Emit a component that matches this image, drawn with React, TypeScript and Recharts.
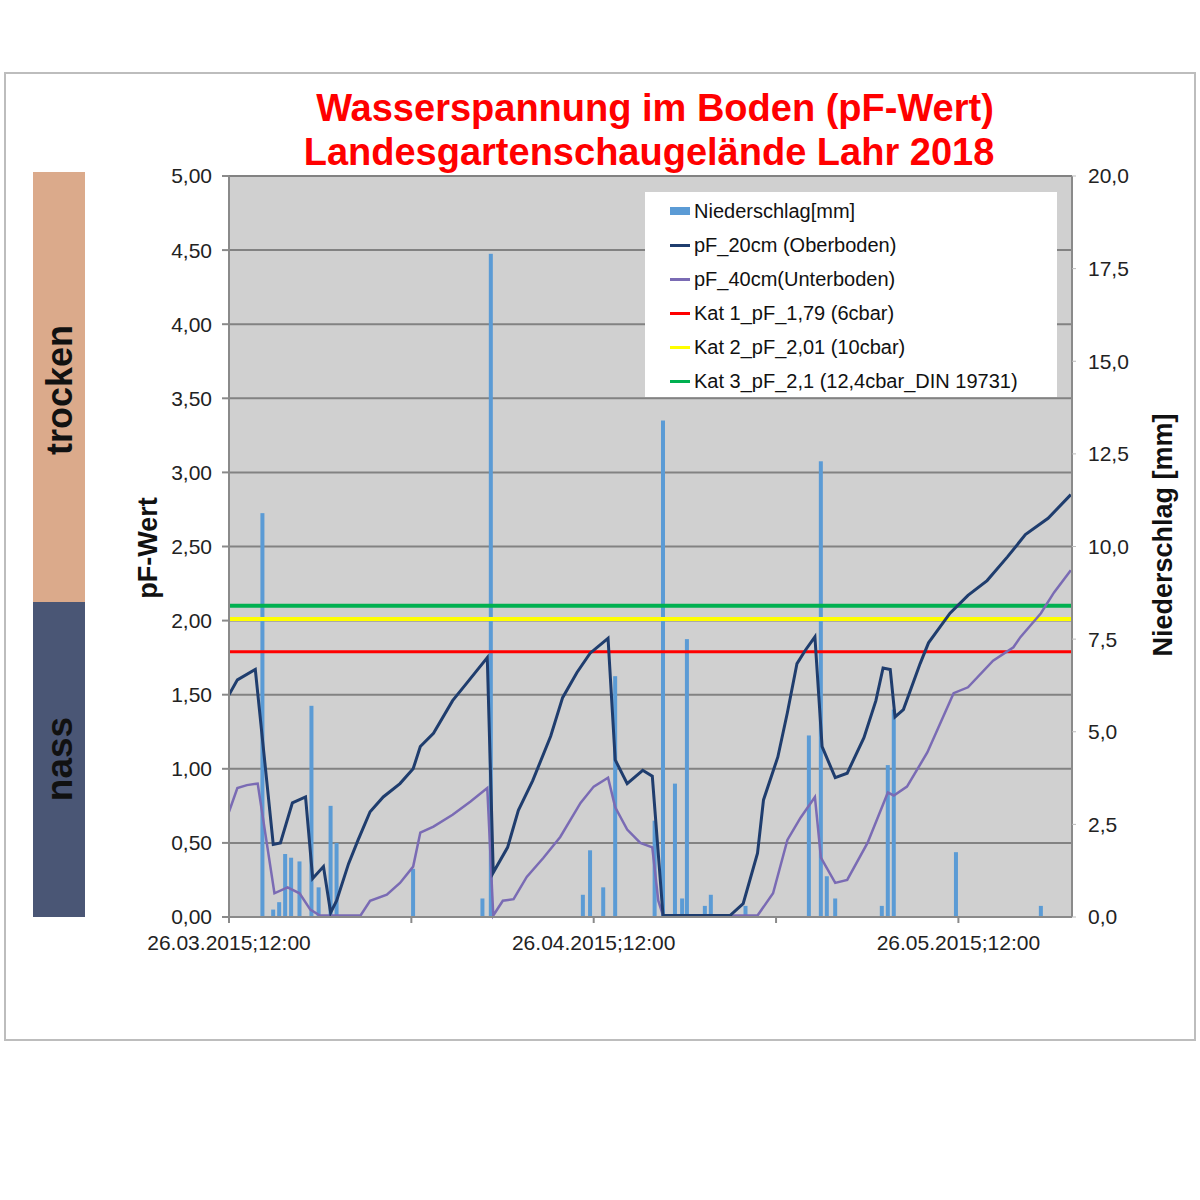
import {
  Bar,
  CartesianGrid,
  ComposedChart,
  Legend,
  Line,
  ReferenceLine,
  XAxis,
  YAxis,
} from 'recharts';

const FONT = '"Liberation Sans", Arial, sans-serif';

// x is counted in days from 26.03.2015 12:00
const xTickDays = [0, 15.25, 30.5, 45.75, 61];
const xTickLabels = ['26.03.2015;12:00', '', '26.04.2015;12:00', '', '26.05.2015;12:00'];
const pfTicks = [0, 0.5, 1, 1.5, 2, 2.5, 3, 3.5, 4, 4.5, 5];
const rainTicks = [0, 2.5, 5, 7.5, 10, 12.5, 15, 17.5, 20];

const rainDays = [
  2.8, 3.7, 4.2, 4.7, 5.2, 5.9, 6.9, 7.5, 8.5, 9.0, 15.4, 21.2, 21.9, 29.6, 30.2, 31.3, 32.3,
  35.6, 36.3, 37.3, 37.9, 38.3, 39.8, 40.3, 43.2, 48.5, 49.5, 50.0, 50.7, 54.6, 55.1, 55.6, 60.8,
  67.9,
];
const rainMm = [
  10.9, 0.2, 0.4, 1.7, 1.6, 1.5, 5.7, 0.8, 3.0, 2.0, 1.3, 0.5, 17.9, 0.6, 1.8, 0.8, 6.5, 2.6,
  13.4, 3.6, 0.5, 7.5, 0.3, 0.6, 0.3, 4.9, 12.3, 1.1, 0.5, 0.3, 4.1, 5.6, 1.75, 0.3,
];

const pf20Days = [
  0, 0.7, 2.2, 3.7, 4.3, 5.3, 6.4, 7.0, 7.9, 8.5, 9.0, 10.0, 10.8, 11.8, 12.9, 14.3, 15.4, 16.0,
  17.1, 18.7, 19.9, 21.6, 22.1, 23.3, 24.2, 25.4, 26.9, 27.9, 29.1, 30.2, 31.7, 32.3, 33.3, 34.6,
  35.4, 36.3, 41.9, 43.0, 44.2, 44.7, 45.9, 46.7, 47.5, 48.2, 49.0, 49.6, 50.7, 51.7, 53.1, 54.1,
  54.7, 55.3, 55.7, 56.4, 57.8, 58.5, 60.3, 61.8, 63.4, 65.1, 66.6, 68.5, 70.4,
];
const pf20Values = [
  1.5, 1.6, 1.67, 0.49, 0.5, 0.77, 0.81, 0.26, 0.34, 0.03, 0.11, 0.36, 0.52, 0.71, 0.81, 0.9, 1.0,
  1.15, 1.24, 1.46, 1.58, 1.75, 0.3, 0.47, 0.72, 0.92, 1.22, 1.48, 1.65, 1.78, 1.88, 1.06, 0.9,
  0.99, 0.95, 0.01, 0.01, 0.09, 0.43, 0.79, 1.08, 1.38, 1.71, 1.8, 1.89, 1.15, 0.94, 0.97, 1.21,
  1.46, 1.68, 1.67, 1.35, 1.4, 1.71, 1.85, 2.05, 2.17, 2.27, 2.43, 2.58, 2.69, 2.85,
];

const pf40Days = [
  0, 0.7, 1.5, 2.4, 3.8, 4.9, 5.9, 6.8, 7.6, 11.0, 11.8, 13.2, 14.3, 15.4, 16.0, 17.1, 18.7, 20.2,
  21.6, 22.1, 22.9, 23.8, 24.9, 26.3, 27.7, 29.4, 30.5, 31.7, 32.3, 33.3, 34.4, 35.4, 35.9, 36.3,
  44.2, 45.5, 46.7, 47.8, 49.0, 49.5, 50.7, 51.7, 53.4, 55.1, 55.6, 56.7, 58.4, 60.6, 61.8, 63.9,
  65.6, 66.2, 67.9, 69.0, 70.4,
];
const pf40Values = [
  0.71, 0.87, 0.89, 0.9, 0.16, 0.2, 0.16, 0.05, 0.01, 0.01, 0.11, 0.15, 0.23, 0.34, 0.57, 0.61,
  0.69, 0.78, 0.87, 0.01, 0.11, 0.12, 0.27, 0.4, 0.54, 0.77, 0.88, 0.94, 0.74, 0.59, 0.5, 0.47,
  0.11, 0.01, 0.01, 0.16, 0.52, 0.67, 0.81, 0.4, 0.23, 0.25, 0.5, 0.84, 0.82, 0.88, 1.11, 1.51,
  1.55, 1.73, 1.82, 1.89, 2.05, 2.19, 2.34,
];

const thresholds = [1.79, 2.01, 2.1];
const seriesNames = [
  'Niederschlag[mm]',
  'pF_20cm (Oberboden)',
  'pF_40cm(Unterboden)',
  'Kat 1_pF_1,79 (6cbar)',
  'Kat 2_pF_2,01 (10cbar)',
  'Kat 3_pF_2,1 (12,4cbar_DIN 19731)',
];
const seriesColors = ['#5B9BD5', '#1F3D6E', '#7A6BB4', '#FF0000', '#FFFF00', '#00B050'];

const rainData = rainDays.map((d, i) => ({ d, rain: rainMm[i] }));
const pf20Data = pf20Days.map((d, i) => ({ d, pf: pf20Values[i] }));
const pf40Data = pf40Days.map((d, i) => ({ d, pf: pf40Values[i] }));

function XTick(props: any) {
  const { x, y, payload } = props;
  const label = xTickLabels[xTickDays.indexOf(payload.value)];
  return (
    <text x={x} y={y} dy="0.71em" textAnchor="middle" fontSize={21} fill="#222" fontFamily={FONT}>
      {label}
    </text>
  );
}

// the bars sit on a numeric axis, so keep them a fixed 4px wide around their x
function RainBar(props: any) {
  const { x, y, width, height } = props;
  if (!height || height <= 0) return null;
  const cx = x + width / 2;
  return <rect x={cx - 2} y={y} width={4} height={height} fill={seriesColors[0]} />;
}

function LegendBox() {
  return (
    <div style={{ background: '#fff', width: 412, height: 205, paddingTop: 2, boxSizing: 'border-box', fontFamily: FONT }}>
      {seriesNames.map((name, i) => (
        <div key={name} style={{ display: 'flex', alignItems: 'center', height: 34, paddingLeft: 25 }}>
          <div
            style={{
              width: 20,
              height: i === 0 ? 8 : 3,
              background: seriesColors[i],
              marginRight: 4,
            }}
          />
          <span style={{ fontSize: 20, color: '#111', whiteSpace: 'nowrap' }}>{name}</span>
        </div>
      ))}
    </div>
  );
}

function Decor() {
  return (
    <svg width={1200} height={1200} style={{ position: 'absolute', left: 0, top: 0 }}>
      <rect x={0} y={0} width={1200} height={1200} fill="#fff" />
      <rect x={5} y={73} width={1190} height={967} fill="#fff" stroke="#BDBDBD" strokeWidth={2} />
      <rect x={33} y={172} width={52} height={430} fill="#DBAA8B" />
      <rect x={33} y={602} width={52} height={315} fill="#4A5675" />
      <text
        transform="translate(72 390) rotate(-90)"
        textAnchor="middle"
        fontSize={36}
        fontWeight="bold"
        fontFamily={FONT}
        fill="#111"
      >
        trocken
      </text>
      <text
        transform="translate(72 759) rotate(-90)"
        textAnchor="middle"
        fontSize={37}
        fontWeight="bold"
        fontFamily={FONT}
        fill="#111"
      >
        nass
      </text>
      <text x={655} y={121} textAnchor="middle" fontSize={38} fontWeight="bold" fontFamily={FONT} fill="#FF0000">
        Wasserspannung im Boden (pF-Wert)
      </text>
      <text x={649} y={165} textAnchor="middle" fontSize={38} fontWeight="bold" fontFamily={FONT} fill="#FF0000">
        Landesgartenschaugelände Lahr 2018
      </text>
      <text
        transform="translate(157 548) rotate(-90)"
        textAnchor="middle"
        fontSize={27}
        fontWeight="bold"
        fontFamily={FONT}
        fill="#111"
      >
        pF-Wert
      </text>
      <text
        transform="translate(1172 535) rotate(-90)"
        textAnchor="middle"
        fontSize={27}
        fontWeight="bold"
        fontFamily={FONT}
        fill="#111"
      >
        Niederschlag [mm]
      </text>
    </svg>
  );
}

export default function App() {
  return (
    <div style={{ position: 'absolute', left: 0, top: 0, width: 1200, height: 1200 }}>
      <Decor />
      <div style={{ position: 'absolute', left: 0, top: 0 }}>
        <ComposedChart
          width={1200}
          height={1000}
          data={rainData}
          margin={{ top: 176, right: 68, bottom: 53, left: 169 }}
        >
          <CartesianGrid
            vertical={false}
            yAxisId="pf"
            fill="#D0D0D0"
            stroke="#828282"
            strokeWidth={2}
            fillOpacity={1}
          />
          <XAxis
            dataKey="d"
            type="number"
            domain={[0, 70.5]}
            ticks={xTickDays}
            interval={0}
            height={30}
            tick={<XTick />}
            tickSize={6}
            tickMargin={12}
            axisLine={{ stroke: '#8a8a8a', strokeWidth: 2 }}
            tickLine={{ stroke: '#8a8a8a', strokeWidth: 2 }}
            allowDataOverflow
          />
          <YAxis
            yAxisId="pf"
            orientation="left"
            width={60}
            domain={[0, 5]}
            ticks={pfTicks}
            interval={0}
            tickFormatter={(v: number) => v.toFixed(2).replace('.', ',')}
            tick={{ fontSize: 21, fill: '#222', fontFamily: FONT }}
            tickSize={7}
            tickMargin={10}
            axisLine={{ stroke: '#8a8a8a', strokeWidth: 2 }}
            tickLine={{ stroke: '#8a8a8a', strokeWidth: 2 }}
          />
          <YAxis
            yAxisId="rain"
            orientation="right"
            width={60}
            domain={[0, 20]}
            ticks={rainTicks}
            interval={0}
            tickFormatter={(v: number) => v.toFixed(1).replace('.', ',')}
            tick={{ fontSize: 21, fill: '#222', fontFamily: FONT }}
            tickSize={4}
            tickMargin={12}
            axisLine={{ stroke: '#8a8a8a', strokeWidth: 2 }}
            tickLine={{ stroke: '#bbbbbb', strokeWidth: 1 }}
          />
          <ReferenceLine yAxisId="pf" y={thresholds[0]} stroke={seriesColors[3]} strokeWidth={3} />
          <ReferenceLine yAxisId="pf" y={thresholds[1]} stroke={seriesColors[4]} strokeWidth={4} />
          <ReferenceLine yAxisId="pf" y={thresholds[2]} stroke={seriesColors[5]} strokeWidth={4} />
          <Line
            yAxisId="pf"
            data={pf40Data}
            dataKey="pf"
            type="linear"
            stroke={seriesColors[2]}
            strokeWidth={2.5}
            dot={false}
            isAnimationActive={false}
          />
          <Line
            yAxisId="pf"
            data={pf20Data}
            dataKey="pf"
            type="linear"
            stroke={seriesColors[1]}
            strokeWidth={3}
            dot={false}
            isAnimationActive={false}
          />
          <Bar
            yAxisId="rain"
            dataKey="rain"
            fill={seriesColors[0]}
            barSize={4}
            shape={<RainBar />}
            isAnimationActive={false}
          />
          <Legend
            layout="vertical"
            align="center"
            verticalAlign="middle"
            content={<LegendBox />}
            wrapperStyle={{ left: 645, top: 192, width: 412, height: 205 }}
          />
        </ComposedChart>
      </div>
    </div>
  );
}
